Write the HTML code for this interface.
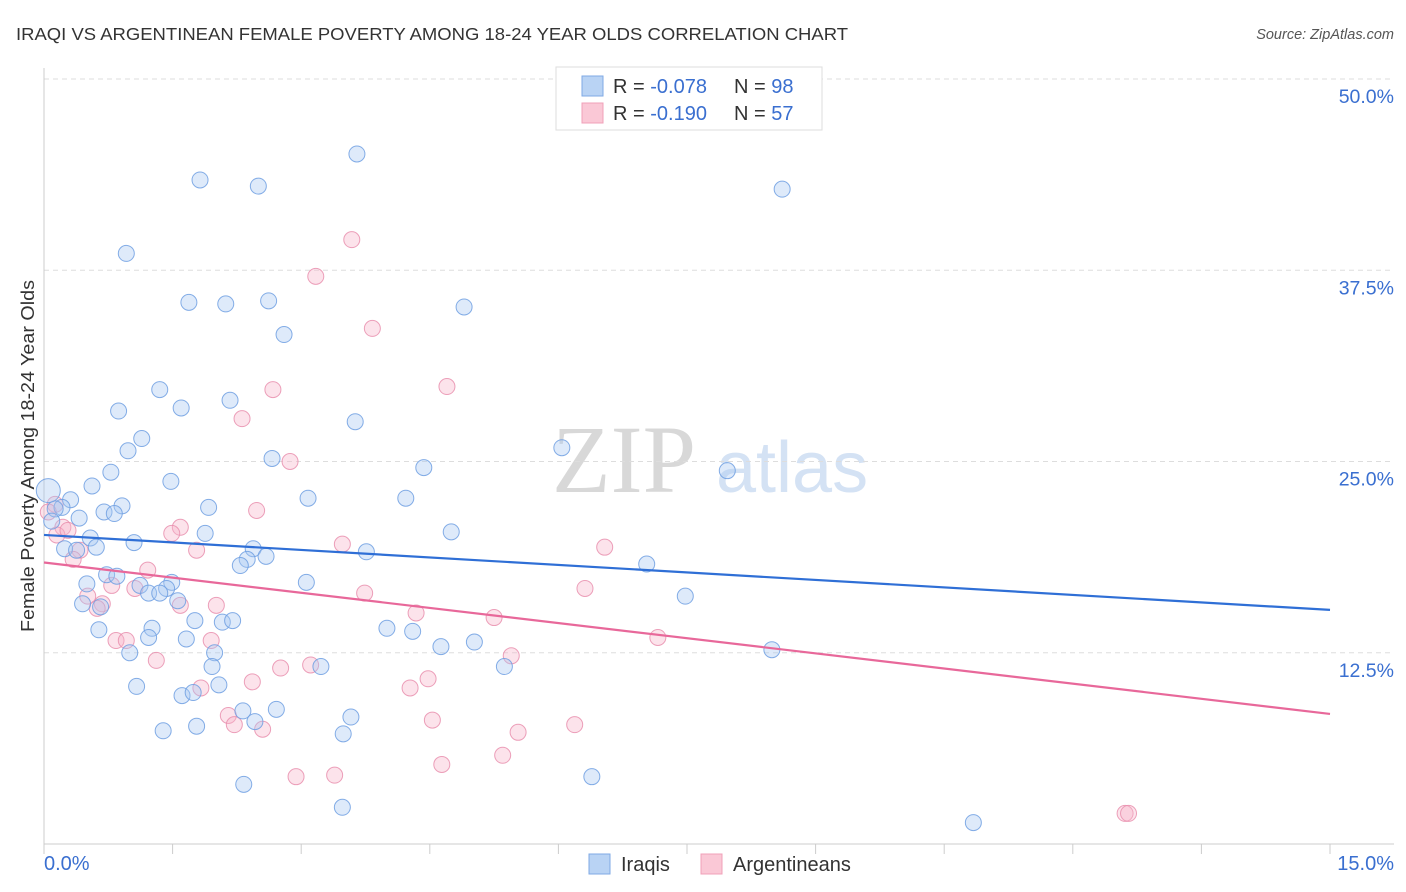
<!DOCTYPE html>
<html><head><meta charset="utf-8">
<style>
body{margin:0;background:#fff;font-family:"Liberation Sans",sans-serif;}
svg{display:block}
</style></head>
<body>
<svg id="chart" width="1406" height="892" viewBox="0 0 1406 892" xmlns="http://www.w3.org/2000/svg">
<text x="16" y="40" font-size="17.5" fill="#333" textLength="832" lengthAdjust="spacingAndGlyphs">IRAQI VS ARGENTINEAN FEMALE POVERTY AMONG 18-24 YEAR OLDS CORRELATION CHART</text>
<text x="1394" y="39" font-size="14.5" fill="#555" font-style="italic" text-anchor="end">Source: ZipAtlas.com</text>
<g>
<text x="552" y="492" font-size="96" font-family="Liberation Serif,serif" fill="#d8d8d8">ZIP</text>
<text x="716" y="492" font-size="72" fill="#d4e2f4">atlas</text>
</g>
<g id="grid"></g>
<g id="axes"></g>
<g id="pink"></g>
<g id="blue"></g>
<g id="lines"></g>
<text x="34" y="456" font-size="18" fill="#333" text-anchor="middle" textLength="352" lengthAdjust="spacingAndGlyphs" transform="rotate(-90 34 456)">Female Poverty Among 18-24 Year Olds</text>
<text x="44" y="870" font-size="20" fill="#3a6fd0">0.0%</text>
<text x="1394" y="870" font-size="20" fill="#3a6fd0" text-anchor="end">15.0%</text>
<g>
<rect x="556" y="67" width="266" height="63" fill="#fff" stroke="#ddd"/>
<rect x="582" y="76" width="21" height="20" fill="#b9d3f4" stroke="#7fa9e4"/>
<rect x="582" y="103" width="21" height="20" fill="#fac8d6" stroke="#f0a0b8"/>
<text x="613" y="93" font-size="20" fill="#333">R = <tspan fill="#3a6fd0">-0.078</tspan></text>
<text x="734" y="93" font-size="20" fill="#333">N = <tspan fill="#3a6fd0">98</tspan></text>
<text x="613" y="120" font-size="20" fill="#333">R = <tspan fill="#3a6fd0"> -0.190</tspan></text>
<text x="734" y="120" font-size="20" fill="#333">N = <tspan fill="#3a6fd0">57</tspan></text>
</g>
<g>
<rect x="589" y="854" width="21" height="20" fill="#b9d3f4" stroke="#7fa9e4"/>
<text x="621" y="871" font-size="20" fill="#333">Iraqis</text>
<rect x="701" y="854" width="21" height="20" fill="#fac8d6" stroke="#f0a0b8"/>
<text x="733" y="871" font-size="20" fill="#333">Argentineans</text>
</g>
</svg>
<script>
const yTicks=[12.5,25,37.5,50];
const yTickLabels=["12.5%","25.0%","37.5%","50.0%"];
const xTicks=[0,1.5,3,4.5,6,7.5,9,10.5,12,13.5,15];
const blueX=[1.82,2.50,3.65,8.61,0.96,1.69,2.12,2.62,2.80,4.90,1.35,0.87,1.60,2.17,3.63,1.14,0.98,0.78,1.48,0.56,0.31,0.21,0.13,0.91,0.70,0.82,1.92,0.41,0.09,3.08,4.22,4.43,6.04,7.97,2.66,4.75,1.88,0.54,1.05,0.61,0.24,0.38,2.44,3.76,2.37,2.29,2.59,7.03,0.73,0.85,0.50,1.12,1.49,1.43,1.22,1.35,1.56,3.06,7.48,0.45,0.66,1.76,2.08,2.20,1.26,0.64,1.22,1.66,4.00,4.30,4.63,5.02,1.00,1.99,1.96,3.23,5.37,8.49,1.08,2.04,1.61,1.74,2.71,2.32,2.46,3.58,1.78,1.39,3.49,2.33,6.39,3.48,10.84,0.05];
const blueY=[43.4,43.0,45.1,42.8,38.6,35.4,35.3,35.5,33.3,35.1,29.7,28.3,28.5,29.0,27.6,26.5,25.7,24.3,23.7,23.4,22.5,22.0,21.9,22.1,21.7,21.6,22.0,21.3,21.1,22.6,22.6,24.6,25.9,24.4,25.2,20.4,20.3,20.0,19.7,19.4,19.3,19.2,19.3,19.1,18.6,18.2,18.8,18.3,17.6,17.5,17.0,16.9,17.1,16.7,16.4,16.4,15.9,17.1,16.2,15.7,15.5,14.6,14.5,14.6,14.1,14.0,13.5,13.4,14.1,13.9,12.9,13.2,12.5,12.5,11.6,11.6,11.6,12.7,10.3,10.4,9.7,9.9,8.8,8.7,8.0,8.3,7.7,7.4,7.2,3.9,4.4,2.4,1.4,23.1];
const pinkX=[3.59,3.17,3.83,4.70,2.67,2.31,2.87,2.48,1.59,1.49,0.13,0.05,0.22,0.15,0.28,0.42,0.34,1.78,3.48,6.54,1.21,0.79,1.06,3.74,6.31,0.51,0.68,1.59,2.01,4.34,5.25,0.62,0.84,0.96,1.95,7.16,1.31,2.76,3.11,5.45,2.43,1.83,4.27,4.48,2.15,2.22,2.55,4.53,5.53,6.19,2.94,3.39,4.64,5.35,12.61,12.65,6.87];
const pinkY=[39.5,37.1,33.7,29.9,29.7,27.8,25.0,21.8,20.7,20.3,22.2,21.7,20.7,20.2,20.5,19.2,18.6,19.2,19.6,19.4,17.9,16.9,16.7,16.4,16.7,16.2,15.7,15.6,15.6,15.1,14.8,15.4,13.3,13.3,13.3,13.5,12.0,11.5,11.7,12.3,10.6,10.2,10.2,10.8,8.4,7.8,7.5,8.1,7.3,7.8,4.4,4.5,5.2,5.8,2.0,2.0,49.6];
const blueTrend=[20.2,15.3];
const pinkTrend=[18.4,8.5];
const NS='http://www.w3.org/2000/svg';
const X0=44,X1=1330,Y0=844,PXPER=15.3;
function sx(v){return X0+(v/15)*(X1-X0);}
function sy(v){return Y0-v*PXPER;}
function mk(t,a,p){const e=document.createElementNS(NS,t);for(const k in a)e.setAttribute(k,a[k]);p.appendChild(e);return e;}
const grid=document.getElementById('grid'),axes=document.getElementById('axes');
yTicks.forEach((t,i)=>{
 const l=mk('line',{x1:X0,x2:1394,y1:sy(t),y2:sy(t),stroke:'#ddd','stroke-dasharray':'5,4'},grid);
 
 
 const tx=mk('text',{x:1394,y:sy(t)+24,'font-size':19.5,fill:'#3a6fd0','text-anchor':'end'},axes);
 tx.textContent=yTickLabels[i];
 
 
});
const ya=mk('line',{x1:X0,x2:X0,y1:68,y2:Y0,stroke:'#ccc'},axes);


const xa=mk('line',{x1:X0,x2:1394,y1:Y0,y2:Y0,stroke:'#ccc'},axes);


xTicks.forEach(t=>{
 const l=mk('line',{x1:sx(t),x2:sx(t),y1:Y0,y2:Y0+10,stroke:'#ccc'},axes);
 
 
});
function pts(xs,ys,g,fill,stroke,name){
 xs.forEach((x,i)=>{
  const c=mk('circle',{cx:sx(x),cy:sy(ys[i]),r:(name==='iraqi-point'&&i===xs.length-1)?12:8,fill:fill,'fill-opacity':0.38,stroke:stroke,'stroke-width':1,'stroke-opacity':0.85},g);
  
  
 });
}
pts(pinkX,pinkY,document.getElementById('pink'),'#f7b6ca','#e98fae','argentinean-point');
pts(blueX,blueY,document.getElementById('blue'),'#a9c8f2','#6e9fe2','iraqi-point');
const lg=document.getElementById('lines');
const bl=mk('line',{x1:sx(0),y1:sy(blueTrend[0]),x2:sx(15),y2:sy(blueTrend[1]),stroke:'#2f6fd6','stroke-width':2.2},lg);


const pl=mk('line',{x1:sx(0),y1:sy(pinkTrend[0]),x2:sx(15),y2:sy(pinkTrend[1]),stroke:'#e8689a','stroke-width':2.2},lg);


</script>
</body></html>
